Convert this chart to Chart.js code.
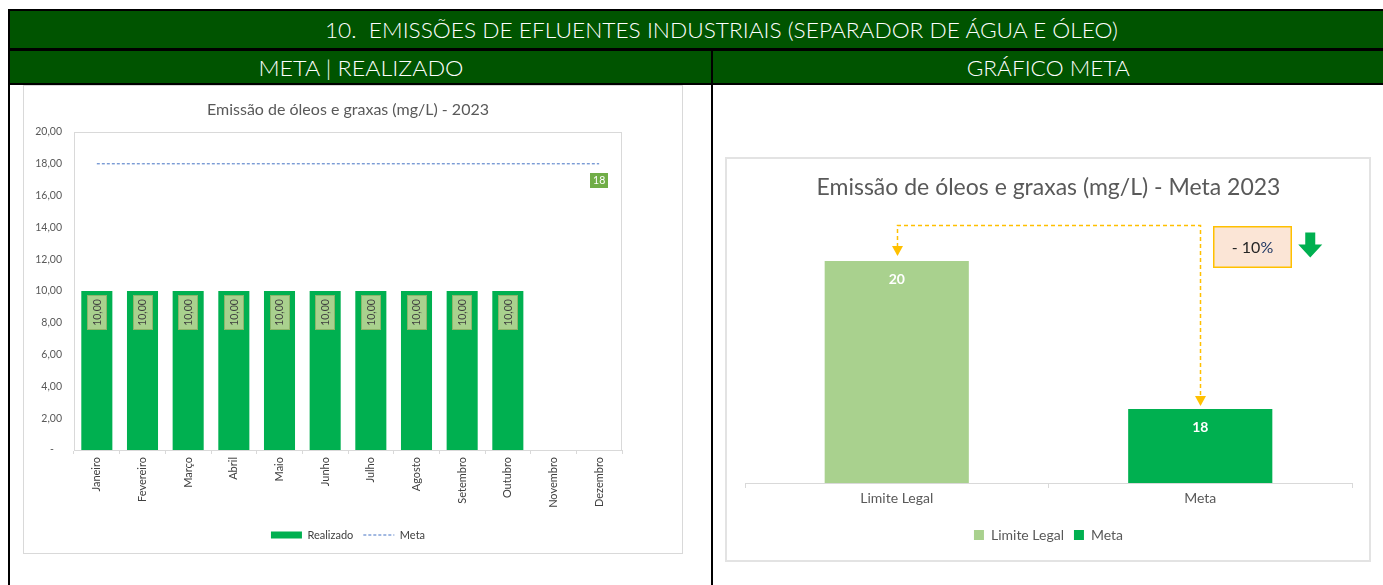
<!DOCTYPE html>
<html><head><meta charset="utf-8">
<script src="https://cdn.jsdelivr.net/npm/chart.js@4.4.0/dist/chart.umd.min.js"></script>
<style>
html,body{margin:0;padding:0;background:#fff;overflow:hidden;width:1383px;height:585px;}
.hdr{position:absolute;background:#005400;color:#fff;font-family:Lato,'Open Sans',sans-serif;font-weight:300;font-size:22px;display:flex;align-items:center;justify-content:center;overflow:hidden;white-space:nowrap;}
.hdr span{display:inline-block;transform-origin:center center;}
.blk{position:absolute;background:#000;}
.box{position:absolute;box-sizing:content-box;}
canvas{position:absolute;left:0;top:0;}
</style></head><body>
<div class="hdr" style="left:10px;top:11px;width:1422px;height:37px;"><span id="h1" data-w="793">10.&nbsp; EMISSÕES DE EFLUENTES INDUSTRIAIS (SEPARADOR DE ÁGUA E ÓLEO)</span></div>
<div class="hdr" style="left:10px;top:51px;width:701px;height:32px;"><span id="h2" data-w="205">META | REALIZADO</span></div>
<div class="hdr" style="left:713px;top:51px;width:670px;height:32px;"><span id="h3" data-w="163">GRÁFICO META</span></div>
<div class="blk" style="left:8px;top:9px;width:1375px;height:2px;"></div>
<div class="blk" style="left:8px;top:48px;width:1375px;height:3px;"></div>
<div class="blk" style="left:8px;top:83px;width:1375px;height:2px;"></div>
<div class="blk" style="left:8px;top:9px;width:2px;height:576px;"></div>
<div class="blk" style="left:711px;top:48px;width:2px;height:537px;"></div>

<div class="box" style="left:23px;top:85px;width:658px;height:467px;border:1px solid #d9d9d9;">
  <canvas id="c1" width="658" height="467"></canvas>
</div>
<div class="box" style="left:725px;top:157px;width:642px;height:401px;border:2px solid #e3e3e3;">
  <canvas id="c2" width="642" height="401"></canvas>
</div>

<script>
// ---------- data ----------
const meses = ['Janeiro','Fevereiro','Março','Abril','Maio','Junho','Julho','Agosto','Setembro','Outubro','Novembro','Dezembro'];
const realizado = [10,10,10,10,10,10,10,10,10,10,null,null];
const metaMensal = [18,18,18,18,18,18,18,18,18,18,18,18];
const yMin1 = 0, yMax1 = 20, yStep1 = 2;

const metaCats = ['Limite Legal','Meta'];
const metaVals = [20,18];
const metaColors = ['#a9d18e','#00b050'];
const reducao = ['- 10','%'];

// ---------- header fit ----------
document.querySelectorAll('.hdr span').forEach(s=>{
  const w = s.getBoundingClientRect().width;
  const t = +s.dataset.w;
  s.style.transform = 'scaleX(' + (t/w) + ')';
});

Chart.defaults.font.family = "Lato, 'Open Sans', sans-serif";
Chart.defaults.color = '#595959';
Chart.defaults.animation = false;

const fmt = v => v.toFixed(2).replace('.', ',');

const plotBorder = {
  id:'plotBorder',
  beforeDatasetsDraw(c){
    const {ctx, chartArea:a} = c;
    ctx.save();
    ctx.strokeStyle='#d9d9d9'; ctx.lineWidth=1;
    ctx.strokeRect(Math.round(a.left)+0.5, Math.round(a.top)+0.5, Math.round(a.right-a.left)-1, Math.round(a.bottom-a.top));
    ctx.restore();
  }
};

const labels1 = {
  id:'labels1',
  afterDatasetsDraw(c){
    const ctx = c.ctx;
    const m = c.getDatasetMeta(0);
    ctx.save();
    m.data.forEach((bar,i)=>{
      const v = c.data.datasets[0].data[i];
      if (v == null) return;
      const w = 20, h = 35;
      const x = Math.round(bar.x - w/2), y = Math.round(bar.y + 4);
      ctx.fillStyle = '#a9d18e'; ctx.fillRect(x, y, w, h);
      ctx.strokeStyle = '#8cb56a'; ctx.lineWidth = 1; ctx.strokeRect(x+0.5, y+0.5, w-1, h-1);
      ctx.save();
      ctx.translate(bar.x, y + h/2); ctx.rotate(-Math.PI/2);
      ctx.fillStyle = '#404040'; ctx.font = '10.5px Lato'; ctx.textAlign='center'; ctx.textBaseline='middle';
      ctx.fillText(fmt(v), 0, 0.5);
      ctx.restore();
    });
    const lm = c.getDatasetMeta(1);
    const li = lm.data.length - 1;
    const last = lm.data[li];
    const lv = c.data.datasets[1].data[li];
    const bw = 18, bh = 15;
    const bx = Math.round(last.x - bw/2), by = Math.round(last.y + 9.5);
    ctx.fillStyle = '#70ad47'; ctx.fillRect(bx, by, bw, bh);
    ctx.fillStyle = '#fff'; ctx.font = '10.5px Lato'; ctx.textAlign='center'; ctx.textBaseline='middle';
    ctx.fillText(String(lv), last.x, by + bh/2 + 0.5);
    ctx.restore();
  }
};

new Chart(document.getElementById('c1'), {
  type:'bar',
  data:{
    labels: meses,
    datasets:[
      {type:'bar', label:'Realizado', data: realizado, backgroundColor:'#00b050', borderWidth:0, barPercentage:0.68, categoryPercentage:1, pointStyle:'rect', order:2},
      {type:'line', label:'Meta', data: metaMensal, borderColor:'#4472c4', backgroundColor:'#4472c4', borderWidth:1, borderDash:[3,2], pointRadius:0, fill:false, tension:0, order:1}
    ]
  },
  options:{
    responsive:false,
    layout:{padding:{left:0,right:60,top:0,bottom:2.5}},
    plugins:{
      title:{display:true, fullSize:false, text:'Emissão de óleos e graxas (mg/L) - 2023', font:{size:16, weight:'normal'}, color:'#595959', padding:{top:14.4,bottom:12.4}},
      legend:{position:'bottom', fullSize:false, labels:{usePointStyle:true, pointStyleWidth:31, boxHeight:7, padding:10, font:{size:11}, color:'#595959',
        generateLabels(c){
          const ds = c.data.datasets;
          return [
            {text:ds[0].label, fillStyle:ds[0].backgroundColor, strokeStyle:ds[0].backgroundColor, lineWidth:0, pointStyle:'rect', hidden:false, datasetIndex:0, fontColor:'#404040'},
            {text:ds[1].label, fillStyle:'rgba(0,0,0,0)', strokeStyle:ds[1].borderColor, lineWidth:1, lineDash:ds[1].borderDash, pointStyle:'line', hidden:false, datasetIndex:1, fontColor:'#404040'}
          ];
        }}},
      tooltip:{enabled:false}
    },
    scales:{
      x:{grid:{display:true, drawOnChartArea:false, tickLength:4, color:'#d9d9d9', offset:true}, border:{color:'#d9d9d9'},
         ticks:{autoSkip:false, minRotation:90, maxRotation:90, font:{size:11}, color:'#404040', padding:3},
         afterFit(s){ s.height = 69.5; }},
      y:{min:yMin1, max:yMax1, grid:{display:false, drawTicks:false}, border:{display:false},
         ticks:{stepSize:yStep1, font:{size:10.5}, color:'#595959', padding:12, callback:v => v === 0 ? '-   ' : fmt(v)},
         afterFit(s){ s.width = 50; }}
    }
  },
  plugins:[plotBorder, labels1]
});

const labels2 = {
  id:'labels2',
  afterDatasetsDraw(c){
    const ctx = c.ctx;
    const m = c.getDatasetMeta(0);
    ctx.save();
    ctx.fillStyle = '#fff'; ctx.font = 'bold 14px Lato'; ctx.textAlign='center'; ctx.textBaseline='middle';
    m.data.forEach((bar,i)=>{ ctx.fillText(String(c.data.datasets[0].data[i]), bar.x, bar.y + 18); });
    ctx.restore();
  }
};

const annot = {
  id:'annot',
  afterDatasetsDraw(c){
    const ctx = c.ctx;
    const m = c.getDatasetMeta(0);
    const b0 = m.data[0], b1 = m.data[1];
    const yL = Math.round(b0.y - 36) + 0.5;
    const x0 = Math.round(b0.x) + 0.5, x1 = Math.round(b1.x) + 0.5;
    ctx.save();
    ctx.strokeStyle = '#ffc000'; ctx.lineWidth = 1.5; ctx.setLineDash([4,3]);
    ctx.beginPath();
    ctx.moveTo(x0, b0.y - 14); ctx.lineTo(x0, yL); ctx.lineTo(x1, yL); ctx.lineTo(x1, b1.y - 12);
    ctx.stroke();
    ctx.setLineDash([]);
    ctx.fillStyle = '#ffc000';
    const tri = (x, tip) => { ctx.beginPath(); ctx.moveTo(x - 5.5, tip - 10); ctx.lineTo(x + 5.5, tip - 10); ctx.lineTo(x, tip); ctx.closePath(); ctx.fill(); };
    tri(x0, b0.y - 5);
    tri(x1, b1.y - 3);
    // box
    const bx = Math.round(b1.x + 13), by = Math.round(yL), bw = 79, bh = 42;
    ctx.fillStyle = '#fbe5d6'; ctx.fillRect(bx, by, bw, bh);
    ctx.strokeStyle = '#ffc000'; ctx.lineWidth = 1.5; ctx.strokeRect(bx + 0.75, by + 0.75, bw - 1.5, bh - 1.5);
    ctx.font = '16px Lato'; ctx.textBaseline = 'middle'; ctx.textAlign = 'left';
    const w1 = ctx.measureText(reducao[0]).width, w2 = ctx.measureText(reducao[1]).width;
    const tx = bx + bw/2 - (w1 + w2)/2, ty = by + bh/2 + 0.5;
    ctx.fillStyle = '#262626'; ctx.fillText(reducao[0], tx, ty);
    ctx.fillStyle = '#1f3864'; ctx.fillText(reducao[1], tx + w1, ty);
    // green arrow
    const ax = b1.x + 110, ay = yL + 7;
    ctx.fillStyle = '#00b050';
    ctx.beginPath();
    ctx.moveTo(ax - 5, ay); ctx.lineTo(ax + 5, ay); ctx.lineTo(ax + 5, ay + 12);
    ctx.lineTo(ax + 12, ay + 12); ctx.lineTo(ax, ay + 25); ctx.lineTo(ax - 12, ay + 12);
    ctx.lineTo(ax - 5, ay + 12); ctx.closePath(); ctx.fill();
    ctx.restore();
  }
};

new Chart(document.getElementById('c2'), {
  type:'bar',
  data:{labels: metaCats, datasets:[{label:'Meta 2023', data: metaVals, backgroundColor: metaColors, borderWidth:0, barPercentage:0.475, categoryPercentage:1}]},
  options:{
    responsive:false,
    layout:{padding:{left:18,right:17,top:0,bottom:8}},
    plugins:{
      title:{display:true, text:'Emissão de óleos e graxas (mg/L) - Meta 2023', font:{size:23, weight:'normal'}, color:'#595959', padding:{top:15.2,bottom:14.8}},
      legend:{position:'bottom', labels:{boxWidth:10, boxHeight:10, padding:10, font:{size:14}, color:'#595959',
        generateLabels(c){
          return c.data.labels.map((t,i)=>({text:t, fillStyle:c.data.datasets[0].backgroundColor[i], strokeStyle:'rgba(0,0,0,0)', lineWidth:0, hidden:false, index:i, fontColor:'#595959'}));
        }}},
      tooltip:{enabled:false}
    },
    scales:{
      x:{grid:{display:true, drawOnChartArea:false, tickLength:5, color:'#d9d9d9', offset:true}, border:{color:'#d9d9d9'},
         ticks:{font:{size:14}, color:'#595959', padding:2}, afterFit(s){ s.height = 35; }},
      y:{display:false, min:17, max:20.6}
    }
  },
  plugins:[labels2, annot]
});
</script>
</body></html>
